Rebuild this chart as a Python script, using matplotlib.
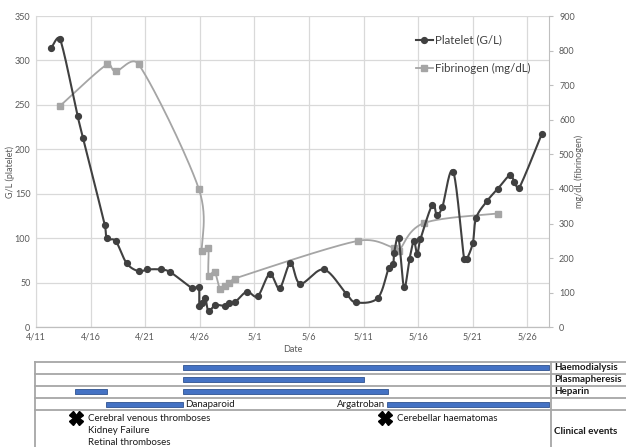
import numpy as np
import matplotlib
matplotlib.use("Agg")
import matplotlib.pyplot as plt
import matplotlib.dates as mdates
from matplotlib.lines import Line2D
import datetime as dt

plt.rcParams['font.family'] = ['Lato', 'DejaVu Sans']

# ---------------- data ----------------
start_date = dt.datetime(2020, 4, 11)
end_date = dt.datetime(2020, 5, 28)

platelet_day = [1.4, 2.2, 3.8, 4.3, 6.3, 6.5, 7.3, 8.3, 9.4, 10.2, 11.4, 12.3,
                14.3, 14.9, 14.95, 15.2, 15.5, 15.8, 16.4, 17.3, 17.7, 18.2,
                19.3, 20.3, 21.4, 22.3, 23.3, 24.2, 26.35, 28.4, 29.3, 31.3,
                32.3, 32.7, 32.8, 33.2, 33.7, 34.2, 34.6, 34.9, 35.2, 36.3,
                36.7, 37.2, 38.2, 39.2, 39.45, 40.0, 40.3, 41.3, 42.3, 43.4,
                43.8, 44.25, 46.3]
platelet_val = [314, 324, 238, 213, 115, 100, 97, 72, 63, 65, 65, 62,
                44, 45, 24, 27, 33, 18, 25, 24, 27, 28,
                40, 35, 60, 44, 72, 49, 65, 38, 28, 33,
                67, 71, 84, 100, 45, 77, 97, 82, 99, 138,
                126, 135, 175, 77, 77, 95, 123, 142, 156, 171,
                163, 157, 217]

fib_day = [2.2, 6.5, 7.3, 9.4, 14.9, 15.2, 15.77, 15.8, 16.35, 16.86, 17.3,
           17.7, 18.2, 29.5, 32.8, 33.2, 35.5, 42.3]
fib_val = [640, 760, 740, 760, 401, 220, 230, 149, 161, 110, 120,
           129, 141, 250, 229, 220, 301, 329]

xtick_labels = ['4/11', '4/16', '4/21', '4/26', '5/1', '5/6', '5/11', '5/16', '5/21', '5/26']

# treatment bars: (row index, start day, end day)
treat_rows = ['Haemodialysis', 'Plasmapheresis', 'Heparin', '']
treat_bars = [(0, 13.5, 47.0), (1, 13.5, 30.0), (2, 3.6, 6.5), (2, 13.5, 32.2),
              (3, 6.4, 13.5), (3, 32.1, 47.0)]
drug_labels = [('Danaparoid', 13.5, 'left'), ('Argatroban', 32.1, 'right')]
events = [(3.7, ['Cerebral venous thromboses', 'Kidney Failure', 'Retinal thromboses']),
          (32.0, ['Cerebellar haematomas'])]

# ---------------- figure ----------------
W, H = 626, 447
fig = plt.figure(figsize=(W / 100, H / 100), dpi=100)

ax_l, ax_r, ax_t, ax_b = 36, 549.3, 16, 327.3
aw, ah = ax_r - ax_l, ax_b - ax_t
ax = fig.add_axes([ax_l / W, 1 - ax_b / H, aw / W, ah / H])
ax2 = ax.twinx()

x0 = mdates.date2num(start_date)
x1 = mdates.date2num(end_date)
ax.set_xlim(x0, x1)
ax.set_ylim(0, 350)
ax2.set_ylim(0, 900)

grid_c = '#d9d9d9'
txt_c = '#595959'
ax.set_xticks([x0 + 5 * i for i in range(len(xtick_labels))])
ax.set_xticklabels(xtick_labels)
ax.set_yticks(np.arange(0, 351, 50))
ax2.set_yticks(np.arange(0, 901, 100))
ax.grid(True, color=grid_c, linewidth=0.9)
ax.set_axisbelow(True)
for a in (ax, ax2):
    a.spines['top'].set_visible(False)
    a.spines['left'].set_color(grid_c)
    a.spines['bottom'].set_color('#bfbfbf')
    a.spines['right'].set_color('#bfbfbf')
ax.spines['right'].set_visible(False)
ax2.spines['left'].set_visible(False)
ax.tick_params(axis='both', length=0, labelsize=6.5, colors=txt_c, pad=4)
ax2.tick_params(axis='y', length=3, labelsize=6.5, colors=txt_c, pad=4, color='#bfbfbf')
ax.set_xlabel('Date', fontsize=6.5, color=txt_c)
ax.set_ylabel('G/L (platelet)', fontsize=6.5, color=txt_c)
ax2.set_ylabel('mg/dL (fibrinogen)', fontsize=6.5, color=txt_c)
ax.xaxis.set_label_coords(0.5, -(350 - ax_b) / ah, transform=ax.transAxes)
ax.yaxis.set_label_coords((10 - ax_l) / aw, 0.5)
ax2.yaxis.set_label_coords((579 - ax_l) / aw, 0.5)
ax.xaxis.label.set_va('center')
ax.yaxis.label.set_va('center')
ax2.yaxis.label.set_va('center')


def excel_smooth(axis, xs, ys, n=30):
    pts = axis.transData.transform(np.column_stack([xs, ys]))
    out = [pts[0]]
    m = len(pts)
    for i in range(m - 1):
        p1, p2 = pts[i], pts[i + 1]
        p0 = pts[i - 1] if i > 0 else p1
        p3 = pts[i + 2] if i + 2 < m else p2
        d12 = np.linalg.norm(p2 - p1)
        t1 = (p2 - p0) / 6.0
        t2 = (p3 - p1) / 6.0
        for t in (t1, t2):
            L = np.linalg.norm(t)
            if L > d12 / 2 and L > 0:
                t *= (d12 / 2) / L
        c1 = p1 + t1
        c2 = p2 - t2
        tt = np.linspace(0, 1, n)[1:, None]
        seg = ((1 - tt) ** 3) * p1 + 3 * ((1 - tt) ** 2) * tt * c1 + 3 * (1 - tt) * tt ** 2 * c2 + tt ** 3 * p2
        out.extend(seg)
    out = np.array(out)
    return axis.transData.inverted().transform(out)


plt_c = '#404040'
fib_c = '#a5a5a5'
px = x0 + np.array(platelet_day)
fx = x0 + np.array(fib_day)

fc = excel_smooth(ax2, fx, fib_val)
ax2.plot(fc[:, 0], fc[:, 1], color=fib_c, lw=1.3, zorder=2)
ax2.plot(fx, fib_val, ls='none', marker='s', ms=4.2, color=fib_c, zorder=3)

pc = excel_smooth(ax, px, platelet_val)
ax2.plot(*ax2.transData.inverted().transform(ax.transData.transform(pc)).T,
         color=plt_c, lw=1.5, zorder=4)
ax2.plot(*ax2.transData.inverted().transform(
    ax.transData.transform(np.column_stack([px, platelet_val]))).T,
    ls='none', marker='o', ms=4.2, color=plt_c, zorder=5)

handles = [Line2D([], [], color=plt_c, lw=1.5, marker='o', ms=4.2),
           Line2D([], [], color=fib_c, lw=1.3, marker='s', ms=4.2)]
fig.legend(handles, ['Platelet (G/L)', 'Fibrinogen (mg/dL)'], loc='upper left',
           bbox_to_anchor=(410 / W, 1 - 29 / H), frameon=False, fontsize=8.3,
           handlelength=1.5, handletextpad=0.2, labelspacing=1.5, borderpad=0,
           labelcolor='#404040')

# ---------------- table ----------------
tab_top = 361.7
tb = fig.add_axes([ax_l / W, 0, aw / W, (H - tab_top) / H])
tb.set_xlim(x0, x1)
tb.set_ylim(H - tab_top, 0)
tb.axis('off')

line_c = '#a6a6a6'
row_h = 12.1
row_edges = [0, row_h, 2 * row_h, 3 * row_h, 4 * row_h]
left_x = -1.0 / aw
right_x = (W - ax_l) / aw
trans = tb.get_yaxis_transform()
for y in row_edges:
    tb.plot([left_x, right_x], [y, y], transform=trans, color=line_c, lw=1.3, clip_on=False)
tb.plot([left_x, left_x], [0, H - tab_top], transform=trans, color=line_c, lw=1.3, clip_on=False)
tb.plot([1.003, 1.003], [0, H - tab_top], transform=trans, color=line_c, lw=1.3, clip_on=False)

for r, lab in enumerate(treat_rows):
    if lab:
        tb.text(1.01, (r + 0.5) * row_h, lab, transform=trans, fontsize=7.1,
                fontweight='bold', va='center', ha='left', color='#1a1a1a')
tb.text(1.01, 431 - tab_top, 'Clinical events', transform=trans,
        fontsize=7.1, fontweight='bold', va='center', ha='left', color='#1a1a1a')

bar_h = 5.0
for r, s, e in treat_bars:
    tb.barh((r + 0.5) * row_h, e - s, left=x0 + s, height=bar_h, color='#4472c4',
            edgecolor='#2f528f', linewidth=0.6, clip_on=False)

for lab, d, side in drug_labels:
    off = 0.15 if side == 'left' else -0.15
    tb.text(x0 + d + off, 3.5 * row_h, lab, fontsize=7.0, va='center', ha=side, color='#1a1a1a')

for d, lines in events:
    tb.plot(x0 + d, 4 * row_h + 8.0, marker='X', ms=10, color='black', mec='black', clip_on=False)
    for k, t in enumerate(lines):
        tb.text(x0 + d + 1.1, 4 * row_h + 8.0 + 12 * k, t, fontsize=7.0, va='center',
                ha='left', color='#1a1a1a')

fig.savefig('out.png', dpi=100)
